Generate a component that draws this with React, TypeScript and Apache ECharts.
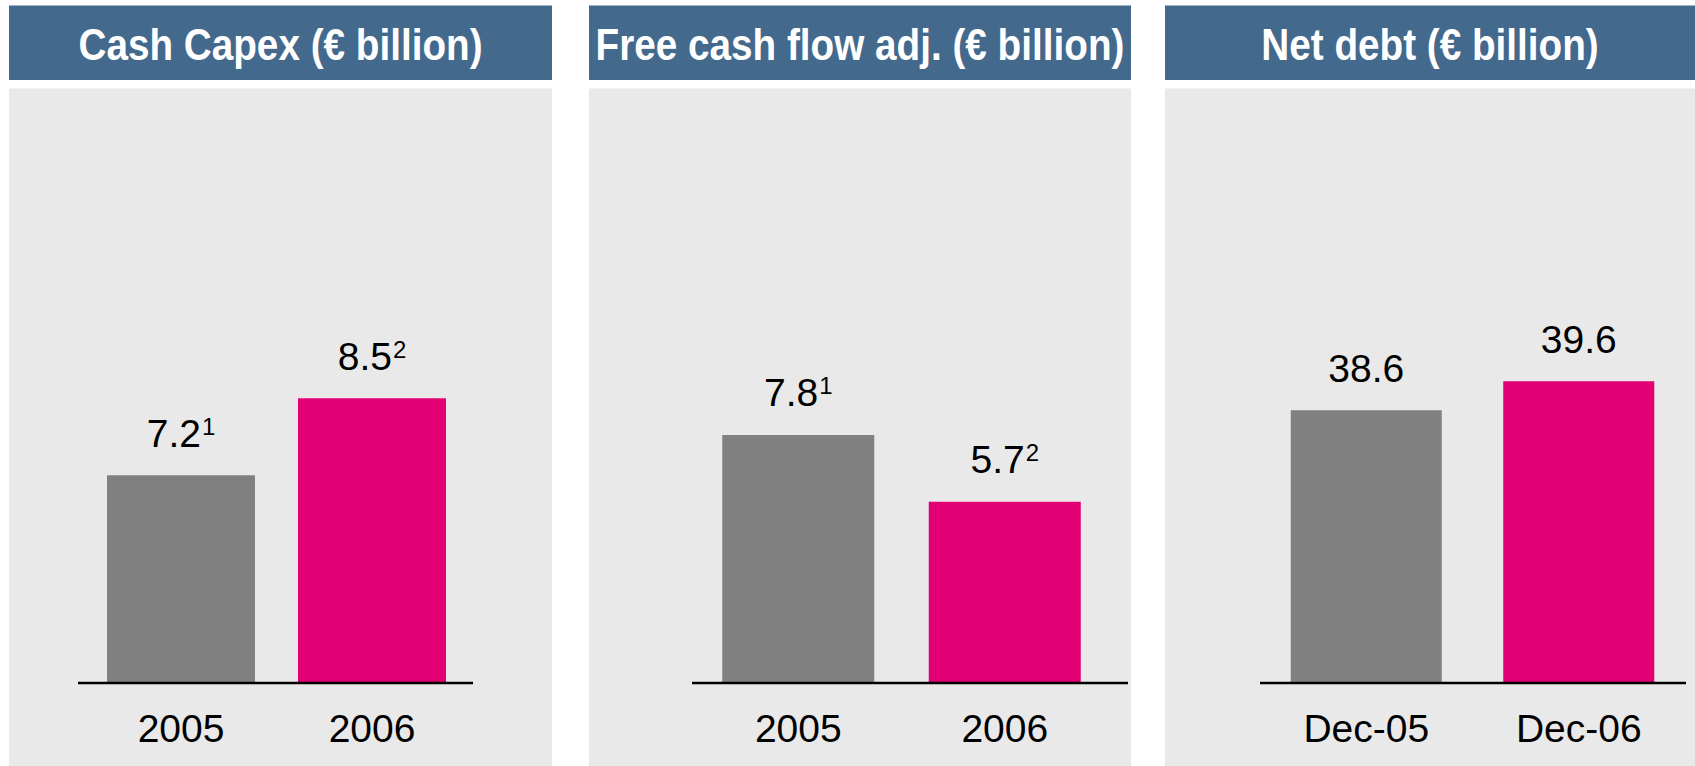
import React, { useEffect, useRef } from "react";
import * as echarts from "echarts";

// ---- data ----
const capexCategories = ["2005", "2006"];
const capexValues = [7.2, 8.5];
const capexNotes = ["1", "2"];

const fcfCategories = ["2005", "2006"];
const fcfValues = [7.8, 5.7];
const fcfNotes = ["1", "2"];

const debtCategories = ["Dec-05", "Dec-06"];
const debtValues = [38.6, 39.6];
const debtNotes = ["", ""];

const titles = ["Cash Capex (€ billion)", "Free cash flow adj. (€ billion)", "Net debt (€ billion)"];
const barColors = ["#808080", "#E20074"];

const FONT = "'Liberation Sans Narrow', 'Arial Narrow', 'Liberation Sans', Arial, sans-serif";

export default function App() {
  const ref = useRef<HTMLDivElement>(null);

  useEffect(() => {
    if (!ref.current) return;
    const chart = echarts.init(ref.current, null, { renderer: "svg" });

    const H = 766;
    const baseY = 683;
    const gridTop = 100;
    const gridBottom = H - baseY;

    const panels = [
      { x: 9, w: 543, lineX1: 78, lineX2: 473, gridLeft: 85.5, gridWidth: 382, barWidth: 148, min: 3.69, max: 13.54, cats: capexCategories, vals: capexValues, notes: capexNotes },
      { x: 589, w: 542, lineX1: 692, lineX2: 1128, gridLeft: 695, gridWidth: 413, barWidth: 152, min: 0, max: 18.33, cats: fcfCategories, vals: fcfValues, notes: fcfNotes },
      { x: 1165, w: 530, lineX1: 1260, lineX2: 1686, gridLeft: 1260, gridWidth: 425, barWidth: 151, min: 29.2, max: 49.3, cats: debtCategories, vals: debtValues, notes: debtNotes },
    ];

    const graphic: any[] = [];
    panels.forEach((p, i) => {
      graphic.push({
        type: "rect", z: -10, silent: true,
        shape: { x: p.x, y: 88.6, width: p.w, height: H - 88.6 },
        style: { fill: "#E9E9E9" },
      });
      graphic.push({
        type: "rect", z: -10, silent: true,
        shape: { x: p.x, y: 5.4, width: p.w, height: 74.6 },
        style: { fill: "#43698D" },
      });
      graphic.push({
        type: "text", z: 10, silent: true,
        x: p.x + p.w / 2, y: 44, scaleX: 0.86,
        style: {
          text: titles[i], fill: "#FFFFFF", fontSize: 45, fontWeight: "bold",
          fontFamily: FONT, align: "center", verticalAlign: "middle",
        },
      });
      graphic.push({
        type: "line", z: 100, silent: true,
        shape: { x1: p.lineX1, y1: baseY, x2: p.lineX2, y2: baseY },
        style: { stroke: "#000000", lineWidth: 2.6 },
      });
    });

    const option: any = {
      animation: false,
      graphic,
      grid: panels.map((p) => ({ left: p.gridLeft, width: p.gridWidth, top: gridTop, bottom: gridBottom })),
      xAxis: panels.map((p, i) => ({
        type: "category", gridIndex: i, data: p.cats,
        axisLine: { show: false }, axisTick: { show: false }, splitLine: { show: false },
        axisLabel: { fontSize: 39, fontFamily: FONT, color: "#000", margin: 45, verticalAlign: "middle" },
      })),
      yAxis: panels.map((p, i) => ({
        type: "value", gridIndex: i, min: p.min, max: p.max, show: false, splitLine: { show: false },
      })),
      series: panels.map((p, i) => ({
        type: "bar", xAxisIndex: i, yAxisIndex: i, barWidth: p.barWidth, z: 5,
        data: p.vals.map((v, j) => ({ value: v, itemStyle: { color: barColors[j] } })),
        label: {
          show: true, position: "top", distance: 21,
          formatter: (q: any) => {
            const note = p.notes[q.dataIndex];
            const txt = `{v|${Number(q.value).toFixed(1)}}`;
            return note ? `${txt}{s|${note}}` : txt;
          },
          rich: {
            v: { fontSize: 39, lineHeight: 42, fontFamily: FONT, color: "#000" },
            s: { fontSize: 24, lineHeight: 24, fontFamily: FONT, color: "#000", verticalAlign: "top", padding: [2, 0, 0, 1] },
          },
        },
      })),
    };

    chart.setOption(option);
    return () => chart.dispose();
  }, []);

  return <div ref={ref} style={{ position: "absolute", left: 0, top: 0, width: 1695, height: 766 }} />;
}
